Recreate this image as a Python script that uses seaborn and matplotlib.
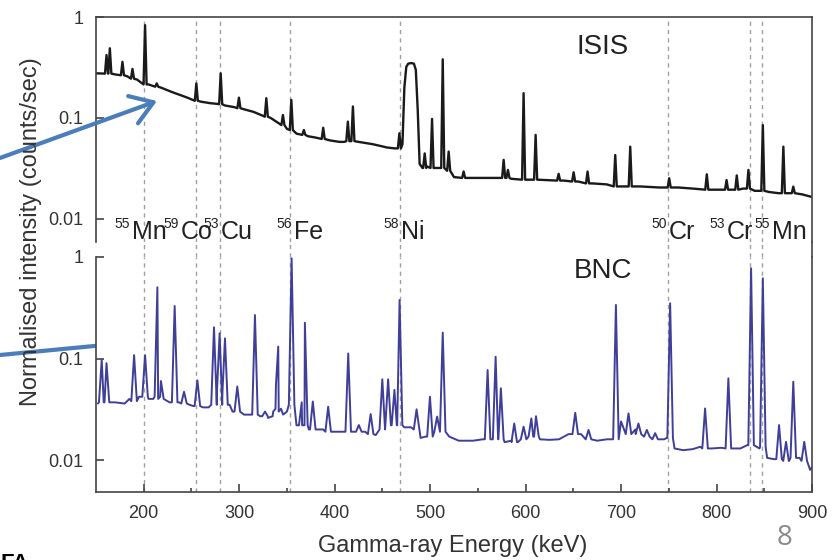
import numpy as np
import pandas as pd
import matplotlib
matplotlib.use('Agg')
import matplotlib.pyplot as plt
import matplotlib.transforms as mtrans
from matplotlib.lines import Line2D
from matplotlib.ticker import NullLocator
import seaborn as sns

# isotope reference lines (keV) and their labels
line_kev = [200, 254.5, 280, 353.5, 468.5, 749, 835, 848]
iso_mass = ['55', '59', '53', '56', '58', '50', '53', '55']
iso_elem = ['Mn', 'Co', 'Cu', 'Fe', 'Ni', 'Cr', 'Cr', 'Mn']
label_kev = [188, 239, 281, 357, 469, 750, 811, 858]

# ISIS spectrum: continuum vertices
isis_base_e = [150, 160, 170, 183, 193, 205, 210, 218, 230, 245, 252, 260, 270, 277,
               285, 295, 305, 315, 325, 333, 342, 350, 360, 372, 380, 395, 405, 410,
               425, 440, 455, 463, 466, 471, 473, 475, 477, 480, 483, 485, 487, 489,
               492, 497, 507, 525, 540, 555, 570, 585, 600, 620, 640, 655, 670, 685,
               700, 720, 740, 760, 775, 800, 815, 828, 840, 855, 865, 880, 890, 900]
isis_base_y = [0.277, 0.275, 0.27, 0.258, 0.24, 0.215, 0.207, 0.2, 0.18, 0.16, 0.15, 0.145,
               0.14, 0.138, 0.133, 0.128, 0.122, 0.115, 0.105, 0.1, 0.088, 0.078, 0.07,
               0.066, 0.064, 0.06, 0.058, 0.058, 0.058, 0.055, 0.051, 0.05, 0.05, 0.055,
               0.2, 0.32, 0.345, 0.35, 0.345, 0.3, 0.12, 0.035, 0.032, 0.033, 0.032,
               0.026, 0.0255, 0.0255, 0.0255, 0.025, 0.0245, 0.0243, 0.024, 0.0235,
               0.0225, 0.022, 0.021, 0.021, 0.0205, 0.0205, 0.02, 0.0195, 0.0195, 0.02,
               0.019, 0.0185, 0.018, 0.018, 0.0175, 0.0165]
# ISIS peaks: centre, top, foot
isis_pk_e = [161, 164.5, 177.7, 188.2, 201.4, 213.6, 255.1, 280.6, 299.7, 328.4, 345.8,
             354.6, 367.7, 388, 413.8, 419.1, 467.8, 494.3, 502, 513.2, 519.4, 535.1,
             577, 581.5, 597.9, 610.5, 634.6, 650.3, 664.9, 693.9, 709.6, 750.4, 789.8,
             810.5, 821.2, 833.4, 848.5, 870, 880.4]
isis_pk_top = [0.42, 0.49, 0.36, 0.306, 0.83, 0.22, 0.22, 0.277, 0.159, 0.157, 0.107,
               0.151, 0.076, 0.08, 0.092, 0.13, 0.0706, 0.0446, 0.098, 0.381, 0.0465,
               0.0295, 0.0385, 0.0306, 0.176, 0.068, 0.028, 0.029, 0.0295, 0.043, 0.052,
               0.0253, 0.0277, 0.0243, 0.027, 0.0306, 0.085, 0.052, 0.0209]
isis_pk_foot = [0.275, 0.275, 0.265, 0.245, 0.215, 0.204, 0.148, 0.137, 0.125, 0.103,
                0.085, 0.076, 0.068, 0.062, 0.059, 0.059, 0.05, 0.032, 0.032, 0.032, 0.03,
                0.0255, 0.0255, 0.0255, 0.0245, 0.0245, 0.024, 0.0235, 0.0225, 0.021,
                0.021, 0.0205, 0.0195, 0.0195, 0.0195, 0.02, 0.019, 0.018, 0.018]

# BNC spectrum
bnc_base_e = [152, 155, 163, 170, 180, 185, 195, 205, 210, 220, 227, 237, 248, 252, 262,
              268, 290, 293, 305, 312, 322, 330, 335, 346, 350, 360, 373, 380, 388, 398,
              408, 420, 425, 432, 443, 447, 466, 473, 480, 490, 495, 505, 520, 530, 545,
              555, 578, 585, 592, 600, 615, 625, 635, 645, 658, 665, 675, 685, 690, 700,
              705, 715, 725, 735, 745, 748, 756, 765, 775, 783, 795, 805, 818, 825, 832,
              842, 845, 853, 860, 870, 876, 887, 893, 898, 900]
bnc_base_y = [0.036, 0.038, 0.036, 0.037, 0.036, 0.04, 0.042, 0.04, 0.04, 0.038, 0.037,
              0.037, 0.035, 0.034, 0.033, 0.033, 0.035, 0.03, 0.028, 0.028, 0.027, 0.026,
              0.027, 0.028, 0.03, 0.022, 0.02, 0.019, 0.02, 0.019, 0.019, 0.019, 0.02,
              0.019, 0.0176, 0.018, 0.02, 0.021, 0.021, 0.0165, 0.017, 0.019, 0.017,
              0.0155, 0.0155, 0.016, 0.015, 0.0155, 0.015, 0.018, 0.016, 0.0158, 0.016,
              0.018, 0.018, 0.0165, 0.0155, 0.016, 0.016, 0.024, 0.022, 0.02, 0.019,
              0.0175, 0.016, 0.0165, 0.013, 0.0125, 0.0128, 0.0135, 0.013, 0.0132, 0.013,
              0.013, 0.014, 0.0135, 0.013, 0.0105, 0.0102, 0.0105, 0.0098, 0.0105, 0.01,
              0.008, 0.0085]
bnc_pk_e = [156, 161, 189.9, 201.4, 214.3, 218, 232.4, 242.2, 256.2, 273.6, 279.5, 285.1,
            298, 316.5, 327, 338.5, 340.9, 354.9, 365.5, 368.8, 377.1, 393.2, 414.2, 425.3,
            437.7, 449.9, 456, 462.6, 468, 485.8, 499.8, 507.3, 513.2, 560.2, 568.6, 574.1,
            588.1, 597.9, 606, 610.9, 652, 665.9, 694.6, 707.8, 718.2, 727, 735.7, 751.4,
            788, 812.4, 836.2, 848.5, 865.5, 872.8, 880.4, 891.9]
bnc_pk_top = [0.097, 0.09, 0.108, 0.108, 0.503, 0.06, 0.329, 0.047, 0.061, 0.203, 0.177,
              0.158, 0.053, 0.268, 0.03, 0.055, 0.131, 0.97, 0.037, 0.225, 0.0377, 0.0335,
              0.112, 0.0221, 0.0284, 0.0624, 0.0624, 0.049, 0.377, 0.0316, 0.042, 0.0268,
              0.18, 0.077, 0.104, 0.0509, 0.0229, 0.0213, 0.0257, 0.027, 0.0292, 0.0198,
              0.337, 0.0288, 0.0229, 0.0198, 0.0184, 0.35, 0.0322, 0.0638, 0.774, 0.617,
              0.0221, 0.0151, 0.059, 0.0151]
bnc_pk_foot = [0.037, 0.037, 0.038, 0.042, 0.042, 0.04, 0.037, 0.036, 0.034, 0.035, 0.045,
               0.035, 0.03, 0.028, 0.027, 0.03, 0.032, 0.035, 0.022, 0.022, 0.02, 0.019,
               0.019, 0.019, 0.018, 0.02, 0.022, 0.022, 0.022, 0.02, 0.017, 0.019, 0.019,
               0.016, 0.016, 0.016, 0.015, 0.016, 0.017, 0.017, 0.018, 0.016, 0.016,
               0.018, 0.018, 0.017, 0.016, 0.0165, 0.013, 0.013, 0.014, 0.0135, 0.0102,
               0.0098, 0.0105, 0.0098]


def spectrum(base_e, base_y, pk_e, pk_top, pk_foot, hw):
    """merge continuum vertices with peak vertices into one sorted frame"""
    centres = np.array(pk_e)
    e, y = [], []
    for be, by in zip(base_e, base_y):
        if np.min(np.abs(centres - be)) > hw:
            e.append(be)
            y.append(by)
    for c, t, f in zip(pk_e, pk_top, pk_foot):
        e += [c - hw, c, c + hw]
        y += [f, t, f]
    return pd.DataFrame({'energy': e, 'counts': y}).sort_values('energy')


isis = spectrum(isis_base_e, isis_base_y, isis_pk_e, isis_pk_top, isis_pk_foot, 1.6)
bnc = spectrum(bnc_base_e, bnc_base_y, bnc_pk_e, bnc_pk_top, bnc_pk_foot, 2.9)

sns.set_theme(style='ticks')
plt.rcParams['font.family'] = ['Liberation Sans', 'DejaVu Sans']

W, H = 832, 560
fig = plt.figure(figsize=(W / 100, H / 100), dpi=100)


def box(l, t, r, b):
    return [l / W, 1 - b / H, (r - l) / W, (b - t) / H]


ax_top = fig.add_axes(box(96, 17, 812, 242))
ax_bot = fig.add_axes(box(96, 257, 812, 492))

spine_col = '#444444'
dash_col = '#a0a0a0'
sns.lineplot(data=isis, x='energy', y='counts', ax=ax_top, color='#1a1a1a',
             lw=1.7, estimator=None, sort=False)
sns.lineplot(data=bnc, x='energy', y='counts', ax=ax_bot, color='#3f3f9a',
             lw=1.4, estimator=None, sort=False)

for ax, ylo in [(ax_top, 10 ** -2.228), (ax_bot, 10 ** -2.315)]:
    ax.set_yscale('log')
    ax.set_xlim(150, 900)
    ax.set_ylim(ylo, 1)
    ax.set_yticks([0.01, 0.1, 1])
    ax.set_yticklabels(['0.01', '0.1', '1'])
    ax.yaxis.set_minor_locator(NullLocator())
    ax.set_xlabel('')
    ax.set_ylabel('')
    ax.tick_params(axis='both', which='major', direction='in', length=6, width=1.2,
                   colors=spine_col, labelsize=13, pad=9, labelcolor='#333333')
    for s in ax.spines.values():
        s.set_color(spine_col)
        s.set_linewidth(1.2)
    for k in line_kev:
        ax.axvline(k, color=dash_col, lw=1, ls=(0, (3, 3)), zorder=0)

ax_top.spines['bottom'].set_visible(False)
ax_top.set_xticks([])
for k in line_kev:
    ax_top.axvline(k, ymin=-15 / 225, ymax=0, color=dash_col, lw=1, ls=(0, (3, 3)),
                   clip_on=False, zorder=0)

ax_bot.spines['top'].set_visible(False)
ax_bot.set_xticks(range(200, 901, 100))
ax_bot.set_xticks(range(250, 851, 100), minor=True)
ax_bot.tick_params(axis='x', which='minor', direction='in', length=3, width=1.2,
                   colors=spine_col)

# join the right frame across the label strip
fig.add_artist(Line2D([812 / W, 812 / W], [1 - 242 / H, 1 - 257 / H],
                      color=spine_col, lw=1.2))

# isotope labels
trans = mtrans.blended_transform_factory(ax_top.transData, fig.transFigure)
for k, m, el in zip(label_kev, iso_mass, iso_elem):
    ax_top.text(k, 1 - 232 / H, el, transform=trans, fontsize=18, color='#222222',
                ha='left', va='center', clip_on=False)
    ax_top.annotate(m, xy=(k, 1 - 224 / H), xycoords=trans, xytext=(-1.5, 0),
                    textcoords='offset points', fontsize=10, color='#222222',
                    ha='right', va='center', annotation_clip=False)

fig.text(603 / W, 1 - 47 / H, 'ISIS', fontsize=20, ha='center', va='center',
         color='#222222')
fig.text(603 / W, 1 - 271 / H, 'BNC', fontsize=20, ha='center', va='center',
         color='#222222')
fig.text(453 / W, 1 - 546 / H, 'Gamma-ray Energy (keV)', fontsize=17, ha='center',
         va='center', color='#333333')
fig.text(31 / W, 1 - 232 / H, 'Normalised intensity (counts/sec)', fontsize=17,
         rotation=90, ha='center', va='center', color='#333333')
fig.text(785 / W, 1 - 538 / H, '8', fontsize=20, ha='center', va='center',
         color='#8a8a8a', family=['Open Sans', 'DejaVu Sans'])
fig.text(0, 1 - 553 / H, 'FA', fontsize=16, weight='bold', ha='left', va='top',
         color='black')

# pointer arrows
arrow_kw = dict(arrowstyle='->, head_length=0.6, head_width=0.4', color='#4a7ebb',
                lw=3, mutation_scale=26, shrinkA=0, shrinkB=0)
ax_top.annotate('', xy=(157, H - 101), xytext=(0, H - 158), xycoords='figure pixels',
                textcoords='figure pixels', arrowprops=arrow_kw, annotation_clip=False)
ax_top.annotate('', xy=(157, H - 340), xytext=(0, H - 355), xycoords='figure pixels',
                textcoords='figure pixels', arrowprops=arrow_kw, annotation_clip=False)

fig.savefig('out.png', dpi=100)
